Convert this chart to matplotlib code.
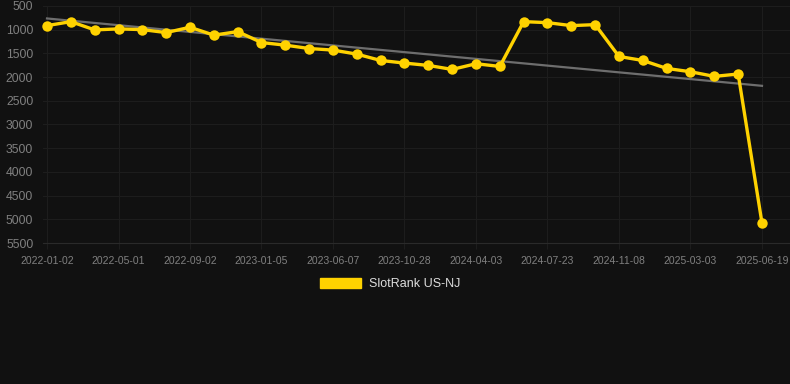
import numpy as np
import matplotlib
matplotlib.use("Agg")
import matplotlib.pyplot as plt
from matplotlib.patches import Patch

# one label every third point on the x axis
tick_labels = ["2022-01-02", "2022-05-01", "2022-09-02", "2023-01-05",
               "2023-06-07", "2023-10-28", "2024-04-03", "2024-07-23",
               "2024-11-08", "2025-03-03", "2025-06-19"]

rank = [914, 830, 1004, 983, 998, 1061, 948, 1115, 1040, 1271,
        1326, 1397, 1430, 1515, 1649, 1704, 1754, 1838, 1718, 1775,
        830, 851, 914, 893, 1565, 1649, 1817, 1887, 1985, 1935,
        5080]

series_name = "SlotRank US-NJ"

BG = "#111111"
GOLD = "#FFD200"
GRID = "#1d1d1d"
TXT = "#808080"

plt.rcParams["font.family"] = ["Liberation Sans", "DejaVu Sans"]


def plot_rank():
    x = np.arange(len(rank))
    fig = plt.figure(figsize=(7.9, 3.84), dpi=100, facecolor=BG)
    ax = fig.add_axes([43 / 790, 1 - 243 / 384, 747 / 790, 237 / 384])
    ax.set_facecolor(BG)

    # linear trend over the whole series
    k, b = np.polyfit(x, rank, 1)
    ax.plot(x, k * x + b, color="#6e6e6e", lw=1.6, zorder=2)

    ax.plot(x, rank, color=GOLD, lw=2.4, marker="o", markersize=7.5,
            markeredgewidth=0, zorder=3, clip_on=False)

    ax.set_xlim(-4 / 23.83, 30 + 28 / 23.83)
    ax.set_ylim(5500, 500)
    ax.set_yticks(range(500, 5501, 500))
    ax.set_xticks(x[::3])
    ax.set_xticklabels(tick_labels)

    ax.grid(True, color=GRID, lw=0.8)
    ax.set_axisbelow(True)
    for side in ["top", "right", "left"]:
        ax.spines[side].set_visible(False)
    ax.spines["bottom"].set_color("#2a2a2a")

    ax.tick_params(axis="y", length=0, pad=7, labelsize=8.8, labelcolor=TXT)
    ax.tick_params(axis="x", length=4, color=GRID, pad=5, labelsize=7.5,
                   labelcolor=TXT)

    handle = Patch(facecolor=GOLD, edgecolor=GOLD)
    fig.legend([handle], [series_name], loc="center",
               bbox_to_anchor=(390 / 790, 1 - 284 / 384), frameon=False,
               fontsize=9, labelcolor="#dddddd", handlelength=3.3,
               handleheight=0.9, handletextpad=0.6)

    fig.savefig("out.png", dpi=100, facecolor=BG)


if __name__ == "__main__":
    plot_rank()
